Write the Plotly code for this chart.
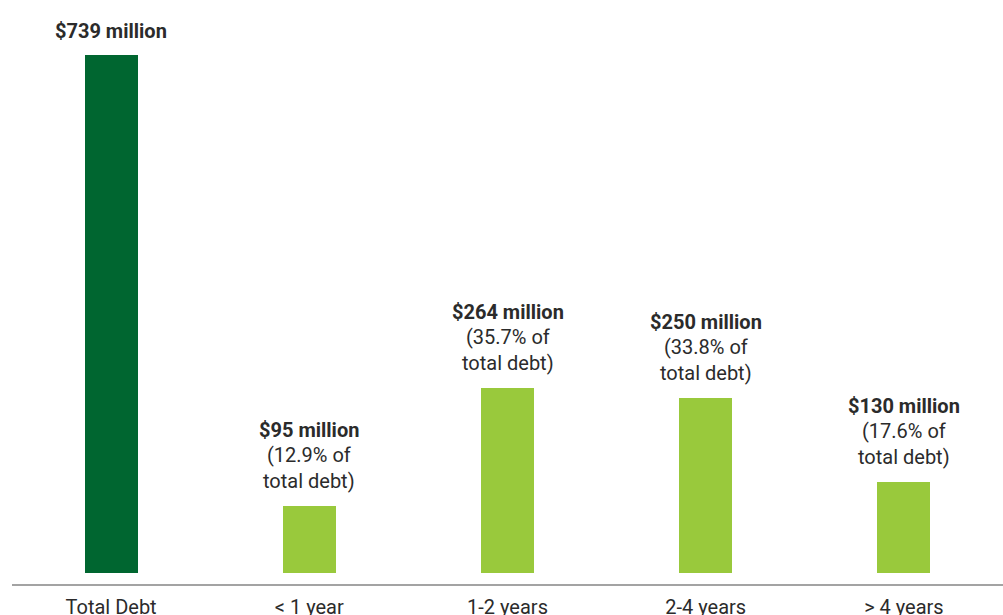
import plotly.graph_objects as go

# Debt maturity profile
categories = ["Total Debt", "< 1 year", "1-2 years", "2-4 years", "> 4 years"]
values_musd = [739, 95, 264, 250, 130]
share_pct = [None, 12.9, 35.7, 33.8, 17.6]
bar_colors = ["#006630", "#99c93c", "#99c93c", "#99c93c", "#99c93c"]

TEXT = "#2b2b2b"
FONT = "Roboto"

fig = go.Figure(
    go.Bar(
        x=categories,
        y=values_musd,
        width=0.267,
        marker=dict(color=bar_colors, line=dict(width=0)),
        hoverinfo="skip",
    )
)

# Value labels stacked above each bar, one annotation per line
for cat, val, pct in zip(categories, values_musd, share_pct):
    if pct is not None:
        lines = [
            (f"<b>${val} million</b>", 76),
            (f"({pct}% of", 51),
            ("total debt)", 25),
        ]
    else:
        lines = [(f"<b>${val} million</b>", 24)]
    for txt, off in lines:
        fig.add_annotation(
            x=cat, y=val, text=txt, showarrow=False,
            xanchor="center", yanchor="middle", yshift=off,
            font=dict(family=FONT, size=20, color=TEXT),
        )

fig.update_layout(
    width=1003,
    height=615,
    margin=dict(l=12, r=0, t=0, b=31, autoexpand=False),
    paper_bgcolor="white",
    plot_bgcolor="white",
    showlegend=False,
    bargap=0,
    font=dict(family=FONT, color=TEXT),
)
fig.update_xaxes(
    type="category",
    range=[-0.5, 4.5],
    automargin=False,
    showgrid=False,
    showline=True,
    linecolor="#a3a3a3",
    linewidth=2,
    ticks="",
    ticklabelstandoff=4,
    tickfont=dict(family=FONT, size=20, color=TEXT),
    fixedrange=True,
)
fig.update_yaxes(
    range=[-15.69, 817.5],
    visible=False,
    showgrid=False,
    zeroline=False,
    fixedrange=True,
)

fig.write_html("out.html", config={"displayModeBar": False})
